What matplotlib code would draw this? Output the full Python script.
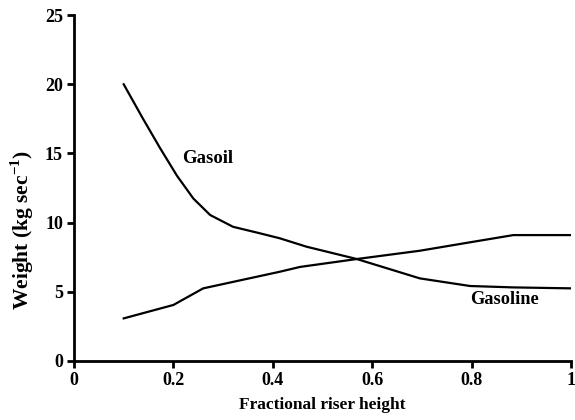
import matplotlib
matplotlib.use("Agg")
import matplotlib.pyplot as plt

plt.rcParams['font.family'] = ['Liberation Serif', 'DejaVu Serif']
plt.rcParams['font.weight'] = 'bold'
plt.rcParams['mathtext.fontset'] = 'custom'
plt.rcParams['mathtext.rm'] = 'Liberation Serif:bold'
plt.rcParams['mathtext.bf'] = 'Liberation Serif:bold'

# data
gasoil_x = [0.10, 0.139, 0.173, 0.207, 0.24, 0.274, 0.32, 0.374, 0.414, 0.468,
            0.569, 0.696, 0.797, 0.883, 1.0]
gasoil_y = [20.0, 17.5, 15.4, 13.4, 11.75, 10.55, 9.7, 9.23, 8.87, 8.26,
            7.37, 5.97, 5.42, 5.32, 5.25]

gasoline_x = [0.10, 0.20, 0.26, 0.414, 0.455, 0.569, 0.696, 0.797, 0.884, 1.0]
gasoline_y = [3.08, 4.05, 5.25, 6.45, 6.8, 7.37, 7.97, 8.58, 9.1, 9.1]

xticks = [0, 0.2, 0.4, 0.6, 0.8, 1]
xticklabels = ['0', '0.2', '0.4', '0.6', '0.8', '1']
yticks = [0, 5, 10, 15, 20, 25]

fig = plt.figure(figsize=(5.75, 4.2), dpi=100)
ax = fig.add_axes([0.1287, 0.1405, 0.8643, 0.8235])

ax.plot(gasoil_x, gasoil_y, color='black', lw=1.6)
ax.plot(gasoline_x, gasoline_y, color='black', lw=1.6)

ax.text(0.217, 14.3, 'Gasoil', fontsize=13.5, fontweight='bold')
ax.text(0.797, 4.1, 'Gasoline', fontsize=13.2, fontweight='bold')

ax.set_xlim(0, 1)
ax.set_ylim(0, 25)
ax.set_xticks(xticks)
ax.set_xticklabels(xticklabels)
ax.set_yticks(yticks)
for s in ['top', 'right']:
    ax.spines[s].set_visible(False)
for s in ['left', 'bottom']:
    ax.spines[s].set_linewidth(2)
ax.tick_params(direction='out', length=5, width=2, labelsize=13, pad=3)

ax.set_xlabel('Fractional riser height', fontsize=12.5, fontweight='bold', labelpad=6)
ax.set_ylabel(r'Weight (kg sec$^{-1}$)', fontsize=15.5, fontweight='bold')
ax.yaxis.set_label_coords(-0.076, 0.38)

fig.savefig('out.png', dpi=100)
